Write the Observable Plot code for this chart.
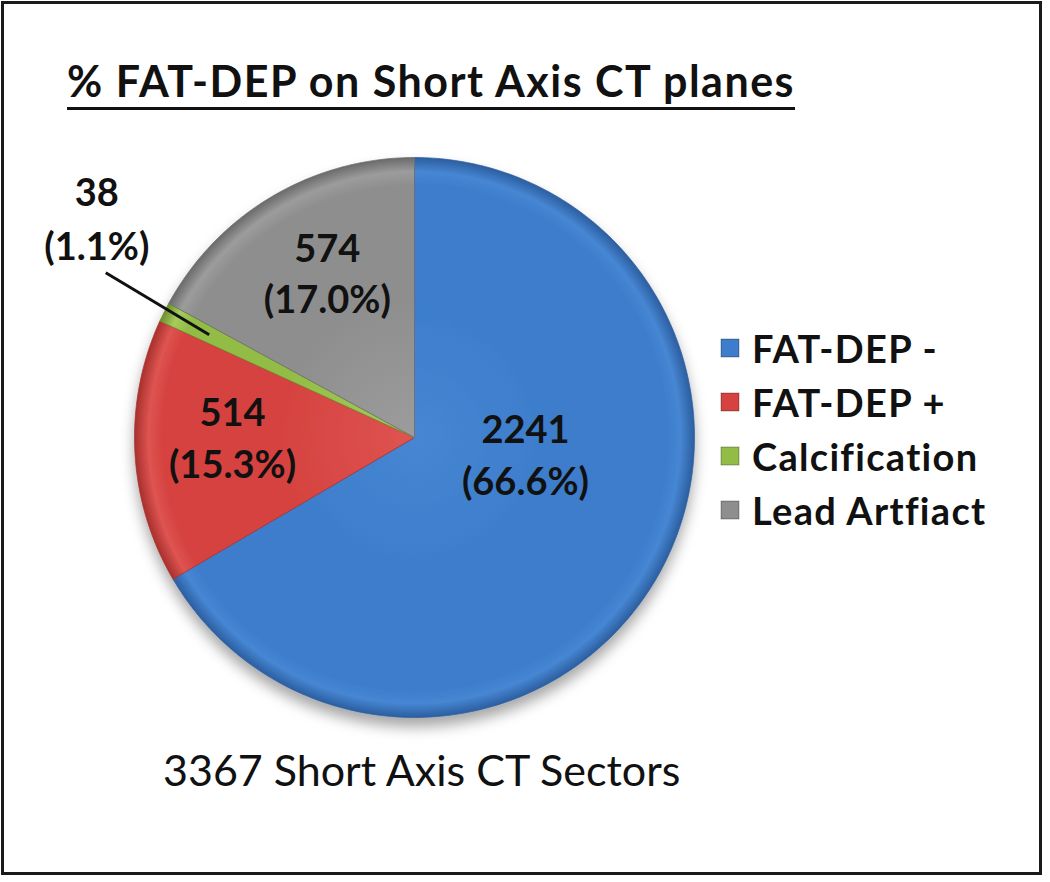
<!DOCTYPE html>
<html><head><meta charset="utf-8">
<script src="https://cdn.jsdelivr.net/npm/d3@7"></script>
<script src="https://cdn.jsdelivr.net/npm/@observablehq/plot@0.6"></script>
<style>
html,body{margin:0;padding:0;background:#fff;}
body{position:relative;width:1050px;height:882px;overflow:hidden;font-family:Lato,"Open Sans",sans-serif;color:#111;}
#card{position:absolute;left:1px;top:1px;width:1041px;height:874px;border:3px solid #1a1a1a;box-sizing:border-box;}
#chart{position:absolute;left:0;top:0;}
#title{position:absolute;left:67px;top:59px;font-size:43px;letter-spacing:1.5px;font-weight:700;white-space:nowrap;text-decoration:underline;text-decoration-thickness:3px;text-underline-offset:10px;line-height:1;}
#caption{position:absolute;left:163px;top:748px;font-size:43px;font-weight:400;white-space:nowrap;line-height:1;}
#legend{position:absolute;left:721px;top:321px;}
#legend .lg-swatch{height:54px;padding:0 !important;margin:0 !important;}
#legend .lg-swatch svg{margin-right:13px !important;}
#legend .lg-swatch svg rect{stroke:rgba(0,0,0,.3);stroke-width:1px;}
</style></head><body>
<div id="card"></div>
<div id="chart"></div>
<div id="title"></div>
<div id="legend"></div>
<div id="caption"></div>
<script>
// ---- data ----
const categories = ["FAT-DEP -", "FAT-DEP +", "Calcification", "Lead Artfiact"];
const counts = [2241, 514, 38, 574];
const percentLabels = ["66.6%", "15.3%", "1.1%", "17.0%"];
const totalSectors = 3367;
const titleText = "% FAT-DEP on Short Axis CT planes";
const captionText = totalSectors + " Short Axis CT Sectors";

// ---- styles / layout ----
const baseColors = ["#3D7DCB", "#D5423F", "#93BC47", "#8E8E8E"];
const lightColors = ["#4686D3", "#DE5451", "#A6CC5C", "#9C9C9C"];
const darkColors = ["#2C5E9F", "#A8302D", "#6C8F2E", "#6A6A6A"];
const labelRadius = [0.40, 0.65, 1.25, 0.67];
const labelTurnDeg = [-22, 3.5, 1.5, 3];
const leaderFrom = 0.82;

const rows = categories.map((name, i) => ({name, count: counts[i], pct: percentLabels[i]}));
const arcs = d3.pie().sort(null).startAngle(0).endAngle(2 * Math.PI).value(d => d.count)(rows);
const polar = (a, r) => ({x: r * Math.sin(a), y: r * Math.cos(a)});

const polys = arcs.map(a => {
  const n = Math.max(4, Math.ceil((a.endAngle - a.startAngle) / (Math.PI / 180)));
  const pts = [{x: 0, y: 0}];
  for (let k = 0; k <= n; k++) pts.push(polar(a.startAngle + (a.endAngle - a.startAngle) * k / n, 1));
  pts.push({x: 0, y: 0});
  return pts;
});

const smallIdx = 2;
const insideLabels = [];
let outsideLabel, leaderLine;
arcs.forEach((a, i) => {
  const mid = (a.startAngle + a.endAngle) / 2 + labelTurnDeg[i] * Math.PI / 180;
  const text = a.data.count + "\n(" + a.data.pct + ")";
  if (i === smallIdx) {
    const p0 = polar((a.startAngle + a.endAngle) / 2, leaderFrom), p1 = polar(mid, labelRadius[i]);
    leaderLine = {x1: p0.x, y1: p0.y, x2: p1.x, y2: p1.y};
    outsideLabel = {...p1, text};
  } else {
    insideLabels.push({...polar(mid, labelRadius[i]), text});
  }
});

const plot = Plot.plot({
  width: 1050, height: 882, margin: 0,
  style: {background: "transparent", overflow: "visible"},
  x: {domain: [-1, 1], range: [134, 694], axis: null},
  y: {domain: [-1, 1], range: [717, 157], axis: null},
  marks: [
    ...polys.map((pts, i) => Plot.line(pts, {x: "x", y: "y", fill: `url(#slice${i})`, stroke: darkColors[i], strokeWidth: 1, strokeOpacity: 0.7, curve: "linear"})),
    Plot.link([leaderLine], {x1: "x1", y1: "y1", x2: "x2", y2: "y2", stroke: "#111", strokeWidth: 3}),
    Plot.text(insideLabels, {x: "x", y: "y", text: "text", fontSize: 38, fontWeight: "bold", fontFamily: "Lato", lineHeight: 1.35, fill: "#111"}),
    Plot.text([outsideLabel], {x: "x", y: "y", text: "text", fontSize: 38, fontWeight: "bold", fontFamily: "Lato", lineHeight: 1.4, fill: "#111", lineAnchor: "bottom", dx: -9, dy: -13})
  ]
});

// gradients + shadow
const sx = plot.scale("x"), sy = plot.scale("y");
const cx = sx.apply(0), cy = sy.apply(0), R = sx.apply(1) - cx;
const svg = d3.select(plot);
const defs = svg.insert("defs", ":first-child");
baseColors.forEach((c, i) => {
  const g = defs.append("radialGradient").attr("id", `slice${i}`)
    .attr("gradientUnits", "userSpaceOnUse").attr("cx", cx).attr("cy", cy).attr("r", R);
  g.append("stop").attr("offset", 0).attr("stop-color", lightColors[i]);
  g.append("stop").attr("offset", 0.5).attr("stop-color", c);
  g.append("stop").attr("offset", 0.9).attr("stop-color", c);
  g.append("stop").attr("offset", 0.95).attr("stop-color", lightColors[i]);
  g.append("stop").attr("offset", 1).attr("stop-color", darkColors[i]);
});
const f = defs.append("filter").attr("id", "shadow").attr("x", "-20%").attr("y", "-20%").attr("width", "140%").attr("height", "140%");
f.append("feDropShadow").attr("dx", 0).attr("dy", 9).attr("stdDeviation", 7).attr("flood-color", "#000").attr("flood-opacity", 0.35);
const lineGroups = svg.selectAll('g[aria-label="line"]').nodes();
const wrap = svg.insert("g", () => lineGroups[0]).attr("filter", "url(#shadow)");
lineGroups.forEach(n => wrap.node().appendChild(n));

document.getElementById("chart").appendChild(plot);
document.getElementById("title").textContent = titleText;
document.getElementById("caption").textContent = captionText;

const legend = Plot.legend({
  color: {type: "ordinal", domain: categories, range: baseColors},
  columns: 1, swatchSize: 18, className: "lg",
  style: {fontSize: "38px", letterSpacing: "1.3px", fontFamily: "Lato", fontWeight: "700", color: "#111", margin: "0"}
});
document.getElementById("legend").appendChild(legend);
</script>
</body></html>
